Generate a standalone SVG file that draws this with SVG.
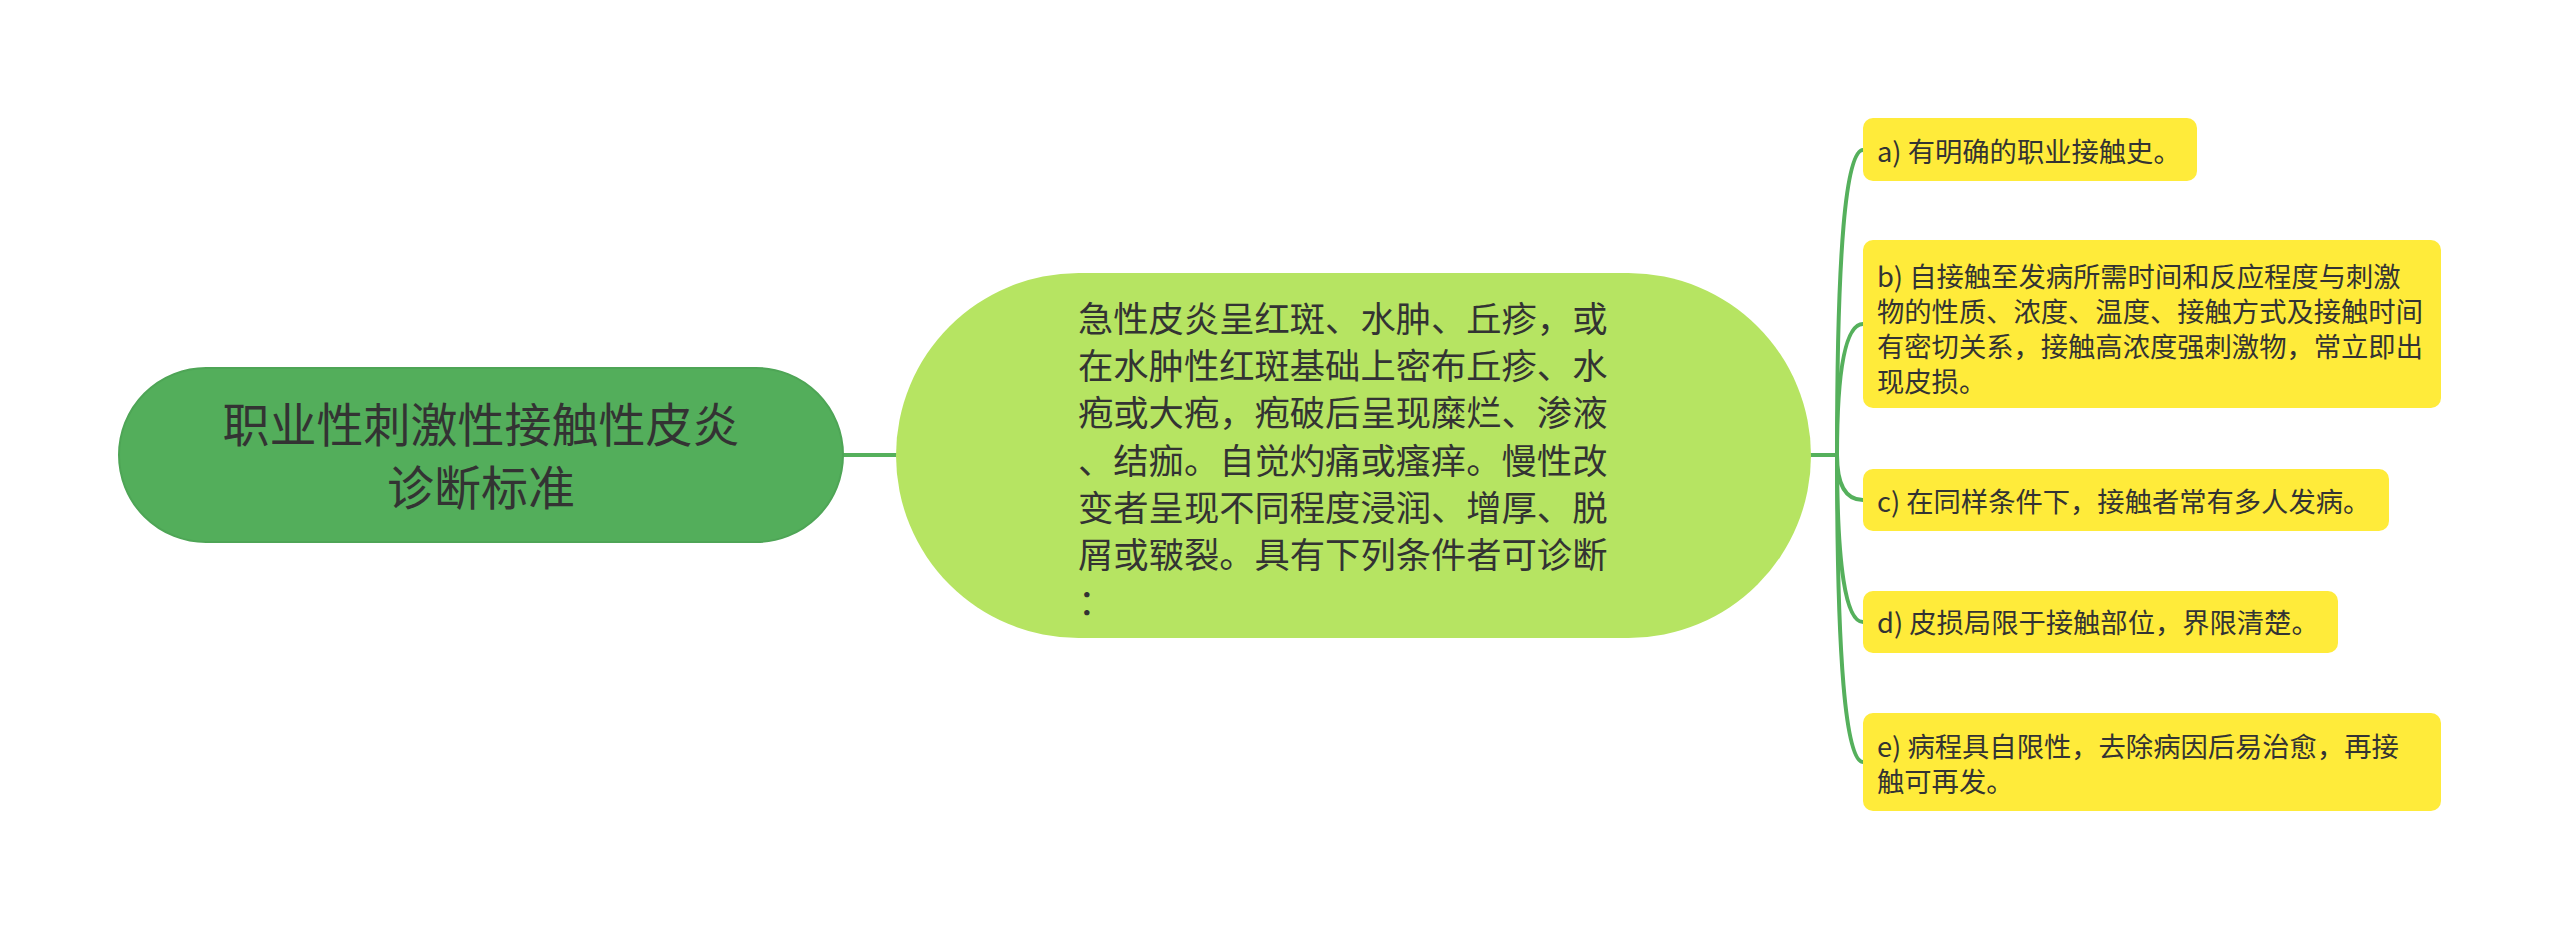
<svg xmlns="http://www.w3.org/2000/svg" width="2560" height="929" viewBox="0 0 2560 929">
<style>
.t{font-family:"Noto Sans CJK SC","Noto Sans",sans-serif;fill:#333333}
.root{font-size:47px}
.mid{font-size:35.3px}
.leaf{font-size:27.3px}
.conn{fill:none;stroke:#55b05c;stroke-width:4;stroke-linecap:round}
.lf{fill:#ffeb3a}
</style>
<rect width="2560" height="929" fill="#ffffff"/>
<g id="connectors">
<path class="conn" d="M843 455 L896 455"/>
<path class="conn" d="M1811 455 L1837 455"/>
<path class="conn" d="M1837 455 Q1837 150 1863 150"/>
<path class="conn" d="M1837 455 Q1837 324 1863 324"/>
<path class="conn" d="M1837 455 Q1837 500 1863 500"/>
<path class="conn" d="M1837 455 Q1837 622 1863 622"/>
<path class="conn" d="M1837 455 Q1837 762 1863 762"/>
</g>
<g id="root">
<rect x="119" y="368" width="724" height="174" rx="87" fill="#53ae5b" stroke="#4ea556" stroke-width="2"/>
<text class="t root" x="481" y="442" text-anchor="middle">职业性刺激性接触性皮炎</text>
<text class="t root" x="481" y="505" text-anchor="middle">诊断标准</text>
</g>
<g id="center">
<rect x="896" y="273" width="915" height="365" rx="182.5" fill="#b6e462"/>
<text class="t mid" x="1078" y="332">急性皮炎呈红斑、水肿、丘疹，或</text>
<text class="t mid" x="1078" y="379">在水肿性红斑基础上密布丘疹、水</text>
<text class="t mid" x="1078" y="426">疱或大疱，疱破后呈现糜烂、渗液</text>
<text class="t mid" x="1078" y="474">、结痂。自觉灼痛或瘙痒。慢性改</text>
<text class="t mid" x="1078" y="521">变者呈现不同程度浸润、增厚、脱</text>
<text class="t mid" x="1078" y="568">屑或皲裂。具有下列条件者可诊断</text>
<text class="t mid" x="1078" y="615">：</text>
</g>
<g id="leaf-a">
<rect class="lf" x="1863" y="118" width="334" height="63" rx="10"/>
<text class="t leaf" x="1877" y="162">a) 有明确的职业接触史。</text>
</g>
<g id="leaf-b">
<rect class="lf" x="1863" y="240" width="578" height="168" rx="10"/>
<text class="t leaf" x="1877" y="287">b) 自接触至发病所需时间和反应程度与刺激</text>
<text class="t leaf" x="1877" y="322">物的性质、浓度、温度、接触方式及接触时间</text>
<text class="t leaf" x="1877" y="357">有密切关系，接触高浓度强刺激物，常立即出</text>
<text class="t leaf" x="1877" y="392">现皮损。</text>
</g>
<g id="leaf-c">
<rect class="lf" x="1863" y="469" width="526" height="62" rx="10"/>
<text class="t leaf" x="1877" y="512">c) 在同样条件下，接触者常有多人发病。</text>
</g>
<g id="leaf-d">
<rect class="lf" x="1863" y="591" width="475" height="62" rx="10"/>
<text class="t leaf" x="1877" y="633">d) 皮损局限于接触部位，界限清楚。</text>
</g>
<g id="leaf-e">
<rect class="lf" x="1863" y="713" width="578" height="98" rx="10"/>
<text class="t leaf" x="1877" y="757">e) 病程具自限性，去除病因后易治愈，再接</text>
<text class="t leaf" x="1877" y="792">触可再发。</text>
</g>
</svg>
